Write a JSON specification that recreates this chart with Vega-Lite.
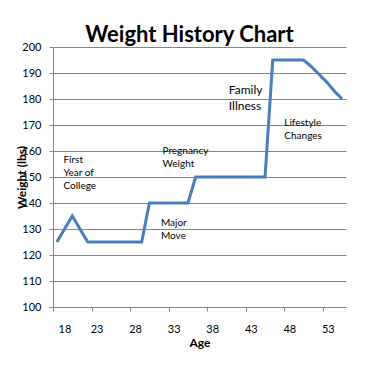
{
  "$schema": "https://vega.github.io/schema/vega-lite/v6.json",
  "autosize": "none",
  "width": 293,
  "height": 260,
  "padding": {"left": 53, "top": 47, "right": 36, "bottom": 63},
  "background": "white",
  "config": {
    "font": "Lato",
    "view": {"stroke": null},
    "axis": {"labelFont": "Lato", "titleFont": "Lato", "labelColor": "#000000", "titleColor": "#000000", "labelFontSize": 11, "titleFontSize": 12, "titleFontWeight": "bold", "domainColor": "#868686", "tickColor": "#868686", "gridColor": "#868686", "gridOpacity": 1, "tickSize": 4, "labelOverlap": false}
  },
  "title": {"text": "Weight History Chart", "font": "Lato", "fontSize": 22, "fontWeight": "bold", "color": "#000000", "anchor": "middle", "dx": -10, "dy": 28, "offset": 5, "baseline": "alphabetic"},
  "datasets": {
    "weights": [
      {"age": 18, "weight": 125},
      {"age": 20, "weight": 135},
      {"age": 22, "weight": 125},
      {"age": 29, "weight": 125},
      {"age": 30, "weight": 140},
      {"age": 35, "weight": 140},
      {"age": 36, "weight": 150},
      {"age": 45, "weight": 150},
      {"age": 46, "weight": 195},
      {"age": 50, "weight": 195},
      {"age": 51, "weight": 192.5},
      {"age": 52, "weight": 189.5},
      {"age": 53, "weight": 186.5},
      {"age": 54, "weight": 183},
      {"age": 55, "weight": 180}
    ],
    "notes": [
      {"age": 18.85, "weight": 158.5, "label": ["First", "Year of", "College"], "group": "small"},
      {"age": 31.7, "weight": 162, "label": ["Pregnancy", "Weight"], "group": "small"},
      {"age": 31.5, "weight": 134.4, "label": ["Major", "Move"], "group": "small"},
      {"age": 40.3, "weight": 185.4, "label": ["Family", "Illness"], "group": "large"},
      {"age": 47.5, "weight": 172.7, "label": ["Lifestyle", "Changes"], "group": "small"}
    ]
  },
  "encoding": {
    "x": {"field": "age", "type": "quantitative", "scale": {"domain": [17.5, 55.5], "nice": false, "zero": false},
      "axis": {"title": "Age", "values": [17.5, 22.5, 27.5, 32.5, 37.5, 42.5, 47.5, 52.5], "labelExpr": "format(datum.value + 0.5, 'd')", "labelOffset": 5, "grid": false, "labelPadding": 12, "titlePadding": 3}},
    "y": {"field": "weight", "type": "quantitative", "scale": {"domain": [100, 200], "nice": false, "zero": false},
      "axis": {"title": "Weight (lbs)", "values": [100, 110, 120, 130, 140, 150, 160, 170, 180, 190, 200], "grid": true, "labelPadding": 8, "titlePadding": -7}}
  },
  "layer": [
    {
      "data": {"name": "weights"},
      "mark": {"type": "line", "color": "#4A7EBB", "strokeWidth": 3, "strokeJoin": "miter"}
    },
    {
      "data": {"name": "notes"},
      "transform": [{"filter": "datum.group === 'small'"}],
      "mark": {"type": "text", "align": "left", "baseline": "top", "fontSize": 10, "lineHeight": 13, "font": "Lato", "color": "#000000"},
      "encoding": {"text": {"field": "label"}}
    },
    {
      "data": {"name": "notes"},
      "transform": [{"filter": "datum.group === 'large'"}],
      "mark": {"type": "text", "align": "left", "baseline": "top", "fontSize": 12, "lineHeight": 16, "font": "Lato", "color": "#000000"},
      "encoding": {"text": {"field": "label"}}
    }
  ]
}
